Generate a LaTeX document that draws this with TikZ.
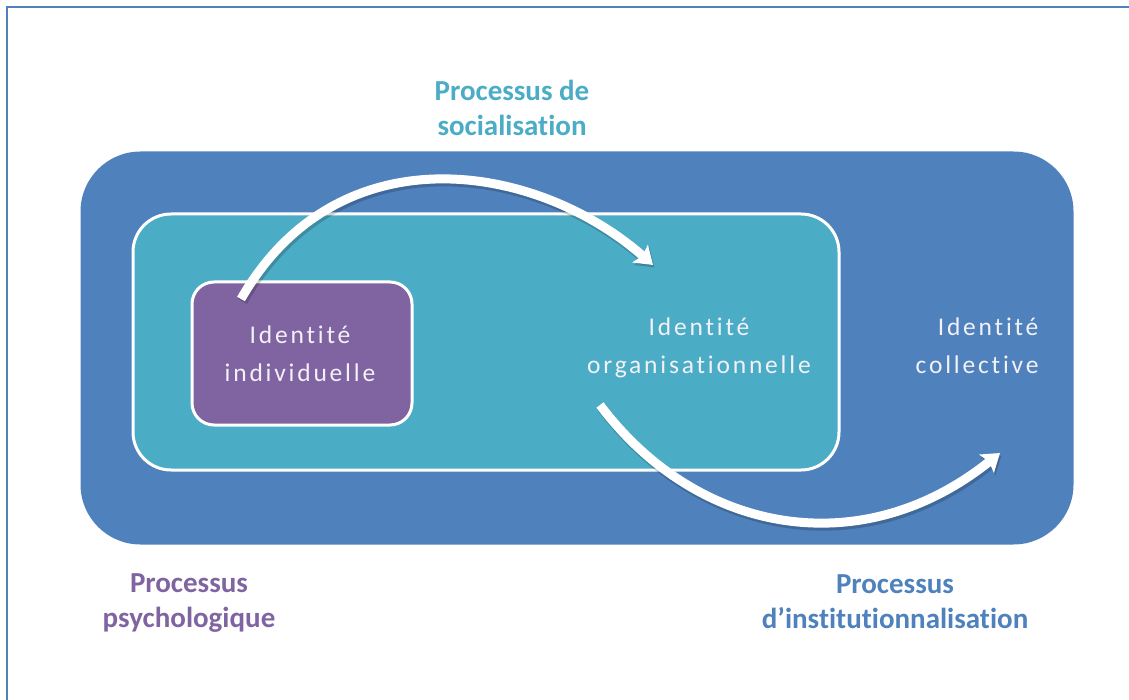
\documentclass[tikz,border=0pt]{standalone}
\usepackage{fontspec}
\setmainfont{Carlito}[Ligatures=NoCommon]
\newfontfamily\boxfont{Carlito}[LetterSpace=11, Ligatures=NoCommon]
\usetikzlibrary{arrows.meta}
\definecolor{collblue}{RGB}{79,129,189}
\definecolor{orgcyan}{RGB}{75,172,198}
\definecolor{indpurple}{RGB}{128,100,162}
\definecolor{boxtext}{RGB}{243,241,246}
\tikzset{
    layer/.style={rectangle, inner sep=0pt},
    idtext/.style={font={\boxfont\fontsize{25.5}{37}\selectfont}, text=boxtext, align=center, anchor=base},
    proclabel/.style={font={\bfseries\fontsize{29}{35}\selectfont}, align=center, anchor=base},
    flow/.style={draw=white, line width=9pt, -{Stealth[length=17pt, width=23pt, inset=3pt]}},
    flowshadow/.style={draw=black, opacity=.18, line width=10pt, -{Stealth[length=17pt, width=23pt, inset=3pt]}, transform canvas={shift={(1.5pt,-2.5pt)}}},
}

\begin{document}
\begin{tikzpicture}[x=1pt, y=-1pt]
    \useasboundingbox (0,0) rectangle (1129,700);
    \draw[collblue, line width=2pt] (7,700) -- (7,7) -- (1129,7);

    % nested identities
    \node[layer, fill=collblue, rounded corners=60pt, minimum width=993pt, minimum height=393pt] (coll) at (577,348) {};
    \node[layer, fill=orgcyan, draw=white, line width=3pt, rounded corners=38pt, minimum width=706pt, minimum height=256pt] (org) at (486,342) {};
    \node[layer, fill=indpurple, draw=white, line width=3pt, rounded corners=22pt, minimum width=220pt, minimum height=143pt] (ind) at (302,353.5) {};

    % base = last line
    \node[idtext] (indtxt) at (300,381) {Identité\\individuelle};
    \node[idtext] (orgtxt) at (699,373) {Identité\\organisationnelle};
    \node[idtext, align=right, anchor=base east] (colltxt) at (1042,373) {Identité\\collective};

    % processes
    \node[proclabel, text=orgcyan] (soclbl) at (512,136) {Processus de\\socialisation};
    \node[proclabel, text=indpurple] (psylbl) at (189,627) {Processus\\psychologique};
    \node[proclabel, text=collblue] (instlbl) at (895,628) {Processus\\d’institutionnalisation};

    \coordinate (socstart) at (241,299);
    \coordinate (socend) at (653,265);
    \coordinate (inststart) at (600,405);
    \coordinate (instend) at (1000,453);

    \draw[flowshadow] (socstart) .. controls (338,130) and (536,162) .. (socend);
    \draw[flow] (socstart) .. controls (338,130) and (536,162) .. (socend);
    \draw[flowshadow] (inststart) .. controls (696,533) and (860,565) .. (instend);
    \draw[flow] (inststart) .. controls (696,533) and (860,565) .. (instend);
\end{tikzpicture}
\end{document}
